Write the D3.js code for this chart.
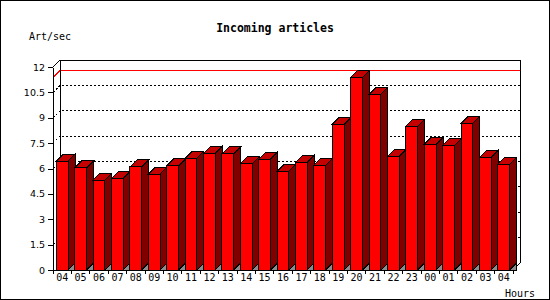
<!DOCTYPE html>
<html>
<head>
<meta charset="utf-8">
<script src="https://cdn.jsdelivr.net/npm/d3@7"></script>
<style>
  body { margin: 0; background: #fff; }
  svg { display: block; }
</style>
</head>
<body>
<script>
// hourly values
const hours = ['04', '05', '06', '07', '08', '09', '10', '11', '12', '13', '14', '15', '16',
               '17', '18', '19', '20', '21', '22', '23', '00', '01', '02', '03', '04'];
const artPerSec = [6.44, 6.03, 5.32, 5.42, 6.09, 5.67, 6.15, 6.6, 6.9, 6.86, 6.27, 6.56, 5.83,
                   6.37, 6.19, 8.61, 11.39, 10.38, 6.72, 8.49, 7.43, 7.37, 8.67, 6.66, 6.25];
const yTicks = [0, 1.5, 3, 4.5, 6, 7.5, 9, 10.5, 12];

const W = 550, H = 300;
const plotL = 53, plotR = 513, plotT = 67, plotB = 270;
const depth = 7;   // 3d offset of the back wall

const svg = d3.select('body').append('svg')
    .attr('width', W)
    .attr('height', H)
    .attr('shape-rendering', 'crispEdges');

// outer frame
svg.append('rect')
    .attr('x', 0.5).attr('y', 0.5)
    .attr('width', W - 1).attr('height', H - 1)
    .attr('fill', '#fff')
    .attr('stroke', '#000');

const idx = d3.range(hours.length);
const x = d3.scaleBand().domain(idx).range([plotL, plotR]);
const y = d3.scaleLinear().domain([0, 12]).range([plotB, plotT]);
const barW = x.bandwidth() * 0.64;

// back wall
const g = svg.append('g');
g.append('rect')
    .attr('x', plotL + depth).attr('y', plotT - depth)
    .attr('width', plotR - plotL).attr('height', plotB - plotT)
    .attr('fill', '#fff');

// dotted grid lines on the back wall and on the left face
const grid = yTicks.filter(d => d > 0 && d < 12);
g.selectAll('.grid')
    .data(grid)
    .enter().append('path')
    .attr('d', d => `M${plotL},${y(d)}L${plotL + depth},${y(d) - depth}L${plotR + depth},${y(d) - depth}`)
    .attr('fill', 'none')
    .attr('stroke', '#000')
    .attr('stroke-dasharray', '2,2');

// red line at the max value
const maxVal = d3.max(artPerSec);
g.append('path')
    .attr('d', `M${plotL},${y(maxVal)}L${plotL + depth},${y(maxVal) - depth}L${plotR + depth},${y(maxVal) - depth}`)
    .attr('fill', 'none')
    .attr('stroke', '#ff0000');

// back wall outline
g.append('path')
    .attr('d', `M${plotL},${plotT}L${plotL + depth},${plotT - depth}L${plotR + depth},${plotT - depth}` +
               `L${plotR + depth},${plotB - depth}L${plotR},${plotB}`)
    .attr('fill', 'none')
    .attr('stroke', '#000');
g.append('line')
    .attr('x1', plotL + depth).attr('y1', plotT - depth)
    .attr('x2', plotL + depth).attr('y2', plotB - depth)
    .attr('stroke', '#000');

// bars
const bars = svg.append('g')
    .selectAll('g')
    .data(artPerSec)
    .enter().append('g')
    .attr('stroke', '#000')
    .attr('stroke-linejoin', 'miter');

bars.each(function(v, i) {
    const b = d3.select(this);
    const x0 = x(i) + (x.bandwidth() - barW) / 2;
    const x1 = x0 + barW;
    const yt = y(v);
    // floor showing under the side
    b.append('path')
        .attr('d', `M${x1},${plotB}L${x1 + depth},${plotB - depth}L${x1 + depth},${plotB}Z`)
        .attr('fill', '#8c8c8c');
    // side
    b.append('path')
        .attr('d', `M${x1},${plotB}L${x1},${yt}L${x1 + depth},${yt - depth}L${x1 + depth},${plotB - depth}Z`)
        .attr('fill', '#800000');
    // top
    b.append('path')
        .attr('d', `M${x0},${yt}L${x0 + depth},${yt - depth}L${x1 + depth},${yt - depth}L${x1},${yt}Z`)
        .attr('fill', '#c40000');
    // front
    b.append('rect')
        .attr('x', x0).attr('y', yt)
        .attr('width', barW).attr('height', plotB - yt)
        .attr('fill', '#ff0000');
});

// y axis
const yAxis = svg.append('g')
    .attr('transform', `translate(${plotL},0)`)
    .call(d3.axisLeft(y).tickValues(yTicks).tickSize(5).tickSizeOuter(0).tickPadding(3)
        .tickFormat(d => d));
yAxis.select('.domain').attr('stroke', '#000');
yAxis.selectAll('text')
    .attr('fill', '#000')
    .style('font-family', 'DejaVu Sans')
    .style('font-size', '9.5px');

// x axis: labels centred, ticks on slot edges
const xAxis = svg.append('g')
    .attr('transform', `translate(0,${plotB})`)
    .call(d3.axisBottom(x).tickSize(0).tickPadding(4).tickFormat(i => hours[i]));
xAxis.select('.domain').remove();
xAxis.selectAll('text')
    .attr('fill', '#000')
    .style('font-family', 'DejaVu Sans Mono')
    .style('font-size', '10px');
svg.append('line')
    .attr('x1', plotL - 2).attr('y1', plotB)
    .attr('x2', plotR).attr('y2', plotB)
    .attr('stroke', '#000');
svg.append('g')
    .selectAll('line')
    .data(d3.range(hours.length + 1))
    .enter().append('line')
    .attr('x1', i => plotL + i * x.step()).attr('x2', i => plotL + i * x.step())
    .attr('y1', plotB).attr('y2', plotB + 4)
    .attr('stroke', '#000');

// texts
svg.append('text')
    .attr('x', W / 2).attr('y', 31.5)
    .attr('text-anchor', 'middle')
    .style('font-family', 'DejaVu Sans Mono')
    .style('font-weight', 'bold')
    .style('font-size', '11.5px')
    .text('Incoming articles');

svg.append('text')
    .attr('x', 29).attr('y', 40)
    .style('font-family', 'DejaVu Sans Mono')
    .style('font-size', '10px')
    .text('Art/sec');

svg.append('text')
    .attr('x', 535).attr('y', 297)
    .attr('text-anchor', 'end')
    .style('font-family', 'DejaVu Sans Mono')
    .style('font-size', '10px')
    .text('Hours');
</script>
</body>
</html>
